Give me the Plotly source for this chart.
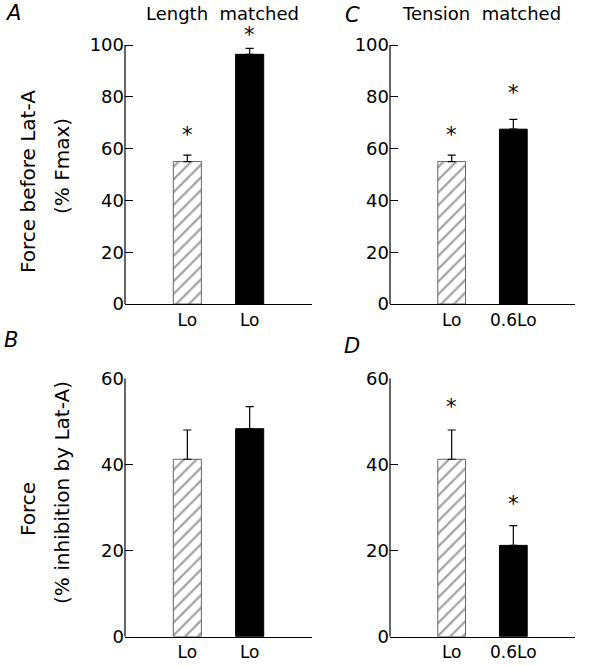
import plotly.graph_objects as go

# ---- data ----
categories_AB = ["Lo", "Lo"]
categories_CD = ["Lo", "0.6Lo"]

force_A = [55.0, 96.4]
err_A = [2.5, 2.3]
star_A = [66.0, 104.5]

force_C = [55.0, 67.5]
err_C = [2.5, 3.8]
star_C = [66.0, 82.2]

inhib_B = [41.2, 48.3]
err_B = [6.8, 5.1]

inhib_D = [41.2, 21.2]
err_D = [6.8, 4.6]
star_D = [53.7, 31.2]

top_ticks = [0, 20, 40, 60, 80, 100]
bottom_ticks = [0, 20, 40, 60]

FONT = "DejaVu Sans"
pos = [0, 1]

fig = go.Figure()

def add_panel(idx, values, errs, stars):
    xa = "x" if idx == 1 else f"x{idx}"
    ya = "y" if idx == 1 else f"y{idx}"
    fig.add_trace(go.Bar(
        x=pos, y=values, width=0.45, xaxis=xa, yaxis=ya,
        marker=dict(color=["white", "black"],
                    line=dict(color=["#666666", "black"], width=1),
                    pattern=dict(shape=["/", ""], fgcolor="black", size=9, solidity=0.25)),
        error_y=dict(type="data", symmetric=False, array=errs, arrayminus=[0, 0],
                     color="black", thickness=1.2, width=4),
        showlegend=False,
    ))
    if stars:
        for xv, yv in zip(pos, stars):
            fig.add_annotation(x=xv, y=yv, xref=xa, yref=ya, text="*", showarrow=False,
                               yshift=-2, font=dict(family=FONT, size=21, color="black"))
    # y-axis line drawn from 0 to the top tick only
    top = top_ticks[-1] if idx in (1, 2) else bottom_ticks[-1]
    fig.add_shape(type="line", xref=f"{xa} domain", yref=ya, x0=0, x1=0, y0=0, y1=top,
                  line=dict(color="black", width=1.2))

add_panel(1, force_A, err_A, star_A)
add_panel(2, force_C, err_C, star_C)
add_panel(3, inhib_B, err_B, None)
add_panel(4, inhib_D, err_D, star_D)

W, H = 590, 666
TOP_MAX = 108  # headroom above the 100 tick for the asterisk
px_per_unit_top = (304 - 45) / 100.0
xdomA = [125 / W, 312 / W]
xdomC = [390 / W, 575 / W]
ydomTop = [1 - 304 / H, 1 - (304 - px_per_unit_top * TOP_MAX) / H]
ydomBot = [1 - 636.7 / H, 1 - 378.3 / H]

def xaxis(dom, labels, anchor):
    return dict(domain=dom, range=[-1.0, 2.0], anchor=anchor, showline=True,
                linecolor="black", linewidth=1.2, showgrid=False, zeroline=False,
                tickmode="array", tickvals=pos, ticktext=labels, ticks="",
                automargin=False,
                tickfont=dict(family=FONT, size=17, color="black"))

def yaxis(dom, rng, ticks, anchor):
    return dict(domain=dom, range=rng, anchor=anchor, showline=False,
                showgrid=False, zeroline=False,
                tickmode="array", tickvals=ticks, ticks="inside", ticklen=8,
                tickcolor="black", tickwidth=1, automargin=False,
                tickfont=dict(family=FONT, size=18, color="black"))

fig.update_layout(
    width=W, height=H, margin=dict(l=0, r=0, t=0, b=0, autoexpand=False),
    plot_bgcolor="white", paper_bgcolor="white",
    xaxis=xaxis(xdomA, categories_AB, "y"),
    yaxis=yaxis(ydomTop, [0, TOP_MAX], top_ticks, "x"),
    xaxis2=xaxis(xdomC, categories_CD, "y2"),
    yaxis2=yaxis(ydomTop, [0, TOP_MAX], top_ticks, "x2"),
    xaxis3=xaxis(xdomA, categories_AB, "y3"),
    yaxis3=yaxis(ydomBot, [0, 60], bottom_ticks, "x3"),
    xaxis4=xaxis(xdomC, categories_CD, "y4"),
    yaxis4=yaxis(ydomBot, [0, 60], bottom_ticks, "x4"),
)

def ann(text, x, y, size, angle=0, italic=False):
    fig.add_annotation(text=text, x=x / W, y=1 - y / H, xref="paper", yref="paper",
                       showarrow=False, textangle=angle, xanchor="center", yanchor="middle",
                       font=dict(family=FONT, size=size, color="black",
                                 style="italic" if italic else "normal"))

ann("A", 13, 13, 21, italic=True)
ann("B", 11, 340, 21, italic=True)
ann("C", 352, 15, 21, italic=True)
ann("D", 352, 346, 21, italic=True)
ann("Length  matched", 222, 14, 18)
ann("Tension  matched", 481, 14, 18)
ann("Force before Lat-A", 28, 182, 20, angle=-90)
ann("(% Fmax)", 62, 166, 20, angle=-90)
ann("Force", 28, 509, 20, angle=-90)
ann("(% inhibition by Lat-A)", 62, 493, 20, angle=-90)

fig.write_html("out.html", config={"displayModeBar": False},
               post_script="document.body.style.margin='0px';")
